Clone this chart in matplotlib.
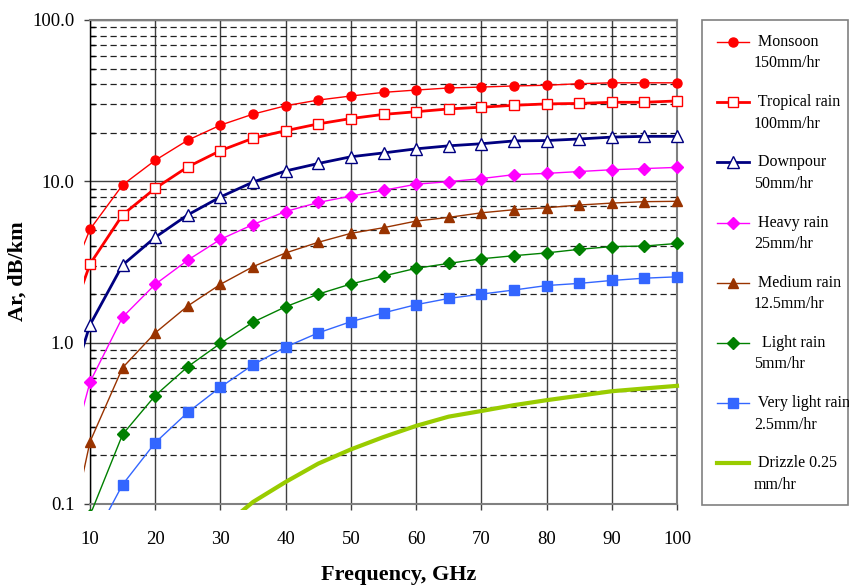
import numpy as np
import matplotlib
matplotlib.use('Agg')
import matplotlib.pyplot as plt
from matplotlib.lines import Line2D
from matplotlib.patches import Rectangle
from matplotlib.ticker import LogLocator, FixedLocator, NullFormatter

plt.rcParams['font.family'] = ['Liberation Serif', 'DejaVu Serif']

nan = np.nan
### rain attenuation vs frequency
freq_ghz = [5, 10, 15, 20, 25, 30, 35, 40, 45, 50, 55, 60, 65, 70, 75, 80, 85, 90, 95, 100]

monsoon = [1.6, 5.04, 9.5, 13.5, 18.0, 22.3, 26.1, 29.4, 31.9, 33.8, 35.6, 36.8, 37.9, 38.4, 39.0, 39.4, 40.3, 40.8, 40.8, 40.8]
tropical = [0.83, 3.07, 6.2, 9.05, 12.3, 15.5, 18.5, 20.6, 22.7, 24.5, 26.0, 27.0, 28.1, 28.8, 29.6, 30.2, 30.4, 30.9, 30.9, 31.5]
downpour = [0.29, 1.29, 3.03, 4.5, 6.2, 8.0, 9.9, 11.6, 12.9, 14.2, 15.0, 15.9, 16.6, 17.1, 17.8, 17.9, 18.3, 18.8, 19.0, 19.0]
heavy = [0.1, 0.57, 1.44, 2.3, 3.25, 4.37, 5.4, 6.5, 7.4, 8.1, 8.8, 9.6, 9.95, 10.4, 11.0, 11.2, 11.5, 11.8, 12.0, 12.2]
medium = [0.028, 0.243, 0.70, 1.15, 1.69, 2.30, 2.96, 3.6, 4.19, 4.76, 5.16, 5.67, 5.98, 6.38, 6.67, 6.86, 7.13, 7.33, 7.48, 7.52]
light = [nan, 0.085, 0.27, 0.47, 0.71, 0.99, 1.34, 1.67, 2.0, 2.31, 2.59, 2.89, 3.10, 3.31, 3.46, 3.6, 3.79, 3.94, 3.97, 4.12]
very_light = [nan, 0.055, 0.132, 0.24, 0.37, 0.53, 0.73, 0.94, 1.15, 1.35, 1.53, 1.72, 1.88, 2.0, 2.12, 2.26, 2.33, 2.43, 2.51, 2.56]
drizzle = [nan, nan, nan, nan, nan, 0.07, 0.103, 0.137, 0.178, 0.218, 0.26, 0.305, 0.348, 0.377, 0.41, 0.44, 0.469, 0.50, 0.52, 0.54]

x_ticks = [10, 20, 30, 40, 50, 60, 70, 80, 90, 100]
y_ticks = [0.1, 1, 10, 100]
y_ticklabels = ['0.1', '1.0', '10.0', '100.0']

# label, values, color, line width, marker, marker size, filled?
series = [
    (' Monsoon\n150mm/hr', monsoon, '#FF0000', 1.0, 'o', 6.5, True),
    (' Tropical rain\n100mm/hr', tropical, '#FF0000', 2.0, 's', 7.5, False),
    (' Downpour\n50mm/hr', downpour, '#000080', 2.0, '^', 8, False),
    (' Heavy rain\n25mm/hr', heavy, '#FF00FF', 1.0, 'D', 6.5, True),
    (' Medium rain\n12.5mm/hr', medium, '#993300', 1.0, '^', 7.5, True),
    ('  Light rain\n5mm/hr', light, '#008000', 1.0, 'D', 6.5, True),
    (' Very light rain\n2.5mm/hr', very_light, '#3366FF', 1.0, 's', 6.5, True),
    (' Drizzle 0.25\nmm/hr', drizzle, '#99CC00', 3.0, None, 0, True),
]

W, H = 849, 587
fig = plt.figure(figsize=(W / 100, H / 100), dpi=100)
ax = fig.add_axes([90 / W, 1 - 504 / H, (677 - 90) / W, (504 - 20) / H])

def px(x, y):
    return x / W, 1 - y / H

# lines are allowed to run a few pixels past the plot edges, like the original
clip = Rectangle((-0.0105, -0.0125), 1.03, 1.0125, transform=ax.transAxes)

for label, vals, col, lw, mk, ms, filled in series:
    line, = ax.plot(freq_ghz, vals, color=col, lw=lw, marker=mk, ms=ms,
                    mfc=col if filled else 'white', mec=col, mew=1.0, zorder=3)
    line.set_clip_path(clip)

ax.set_yscale('log')
ax.set_xlim(10, 100)
ax.set_ylim(0.1, 100)
ax.xaxis.set_major_locator(FixedLocator(x_ticks))
ax.set_xticklabels([str(t) for t in x_ticks])
ax.yaxis.set_major_locator(FixedLocator(y_ticks))
ax.set_yticklabels(y_ticklabels)
ax.yaxis.set_minor_locator(LogLocator(base=10, subs=np.arange(2, 10)))
ax.yaxis.set_minor_formatter(NullFormatter())
ax.xaxis.set_minor_locator(FixedLocator([]))

ax.set_axisbelow(True)
ax.yaxis.grid(True, which='major', color='#404040', lw=1.0, ls='-')
ax.yaxis.grid(True, which='minor', color='#202020', lw=0.9, ls=(0, (5, 3)))
ax.xaxis.grid(True, which='major', color='#404040', lw=1.0, ls='-')

ax.tick_params(axis='both', which='major', direction='out', length=4.3, width=1,
               color='#404040', labelsize=13.5)
ax.tick_params(axis='y', which='major', pad=7)
ax.tick_params(axis='x', which='major', pad=15.5)
ax.tick_params(axis='y', which='minor', direction='in', length=3.6, width=1, color='#000000')

for s in ['top', 'right', 'bottom']:
    ax.spines[s].set_color('#808080')
    ax.spines[s].set_linewidth(1.5)
ax.spines['left'].set_color('#000000')
ax.spines['left'].set_linewidth(1.0)

fig.text(*px(399, 575), 'Frequency, GHz', ha='center', va='center', fontsize=16, fontweight='bold')
fig.text(*px(18, 271), 'Ar, dB/km', ha='center', va='center', rotation=90, fontsize=16, fontweight='bold')

# legend box, drawn by hand so the key sits on the first text line
x0, y0 = px(702, 505)
x1, y1 = px(848, 20)
fig.add_artist(Rectangle((x0, y0), x1 - x0, y1 - y0, transform=fig.transFigure,
                         fill=False, ec='#808080', lw=1.2))
for i, (label, vals, col, lw, mk, ms, filled) in enumerate(series):
    yy = 42 + i * 60.2
    xs = [px(717, yy)[0], px(733, yy)[0], px(749, yy)[0]]
    ys = [px(0, yy)[1]] * 3
    fig.add_artist(Line2D(xs, ys, transform=fig.transFigure, color=col, lw=lw,
                          marker=mk, ms=ms, markevery=[1],
                          mfc=col if filled else 'white', mec=col, mew=1.0))
    fig.text(*px(754, yy - 8), label, ha='left', va='top', fontsize=11.5, linespacing=1.45)

fig.savefig('out.png', dpi=100)
